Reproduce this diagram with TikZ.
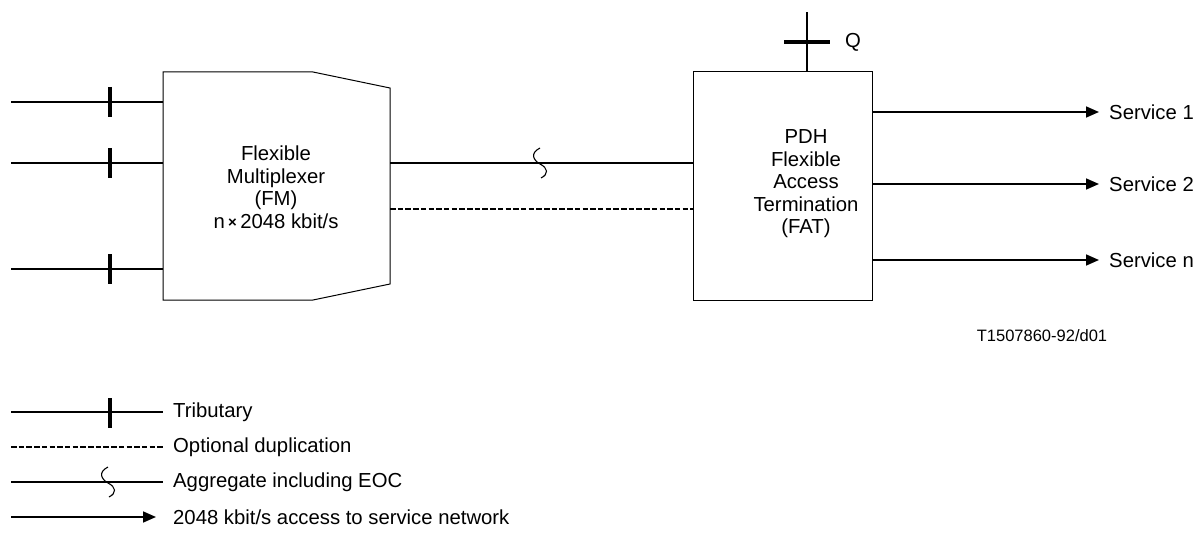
\documentclass[tikz,border=0pt]{standalone}
\usepackage{fontspec}
\setmainfont{Liberation Sans}
\usetikzlibrary{arrows.meta}
\begin{document}
\begin{tikzpicture}[x=1pt,y=-1pt,
  box/.style={draw,line width=1pt},
  wire/.style={line width=1.7pt},
  tickmark/.style={line width=3.3pt},
  dup/.style={line width=2.4pt,dash pattern=on 5.5pt off 2.2pt},
  svc/.style={line width=1.7pt,-{Triangle[length=13pt,width=11pt]}},
  lbl/.style={font=\fontsize{20.3}{22.5}\selectfont,inner sep=0pt},
  squig/.style={line width=1.1pt}]
\useasboundingbox (0,0) rectangle (1203,535);
% multiplexer
\draw[box] (163,72) -- (313,72) -- (390,88) -- (390,284) -- (313,300) -- (163,300) -- cycle;
\coordinate (muxW1) at (163,102);
\coordinate (muxW2) at (163,163);
\coordinate (muxW3) at (163,269);
\coordinate (muxE1) at (390,163);
\coordinate (muxE2) at (390,209);
\node[lbl,align=center] (muxtxt) at (276,187) {Flexible\\Multiplexer\\(FM)\\n\,{\fontsize{15}{15}\selectfont\raisebox{0.5pt}{\textbf{×}}}\,2048 kbit/s};
% FAT
\node[box,minimum width=179pt,minimum height=228pt,inner sep=0pt] (fat) at (782.5,186) {};
\node[lbl,align=center] (fattxt) at (806,184) {PDH\\Flexible\\Access\\Termination\\(FAT)};
% tributaries
\foreach \i/\y in {1/102,2/163,3/269}{
  \coordinate (t\i) at (11,\y);
  \draw[wire] (t\i) -- (muxW\i);
  \draw[tickmark] (110,\y-15) -- (110,\y+15);
}
% aggregate
\draw[wire] (muxE1) -- (fat.west |- muxE1);
\draw[squig] (540,148) .. controls (530,153) and (533,160) .. (540,164) .. controls (548,168) and (549,174) .. (541,178);
% duplication
\draw[dup] (muxE2) -- (fat.west |- muxE2);
% Q
\coordinate (qtop) at (807,12);
\draw[wire] (fat.north -| qtop) -- (qtop);
\draw[tickmark] (784,42) -- (830,42);
\node[lbl,anchor=west] (q) at (845,42) {Q};
% services
\foreach \i/\y/\t in {1/112/Service 1,2/184/Service 2,3/260/Service n}{
  \node[lbl,anchor=west] (s\i) at (1109,\y) {\t};
  \draw[svc] (fat.east |- s\i.west) -- (1099,\y);
}
\node[font=\fontsize{16.5}{16.5}\selectfont,inner sep=0pt] (ref) at (1042,336) {T1507860-92/d01};
% legend
\coordinate (l1a) at (11,412); \coordinate (l1b) at (163,412);
\draw[wire] (l1a) -- (l1b);
\draw[tickmark] (110,398) -- (110,428);
\node[lbl,anchor=west] (lt1) at (173,412) {Tributary};
\coordinate (l2a) at (11,447); \coordinate (l2b) at (163,447);
\draw[dup] (l2a) -- (l2b);
\node[lbl,anchor=west] (lt2) at (173,447) {Optional duplication};
\coordinate (l3a) at (11,482); \coordinate (l3b) at (163,482);
\draw[wire] (l3a) -- (l3b);
\draw[squig] (108,467) .. controls (98,472) and (101,479) .. (108,483) .. controls (116,487) and (117,493) .. (109,497);
\node[lbl,anchor=west] (lt3) at (173,482) {Aggregate including EOC};
\coordinate (l4a) at (11,517); \coordinate (l4b) at (156,517);
\draw[svc] (l4a) -- (l4b);
\node[lbl,anchor=west] (lt4) at (173,517) {2048 kbit/s access to service network};
\end{tikzpicture}
\end{document}
